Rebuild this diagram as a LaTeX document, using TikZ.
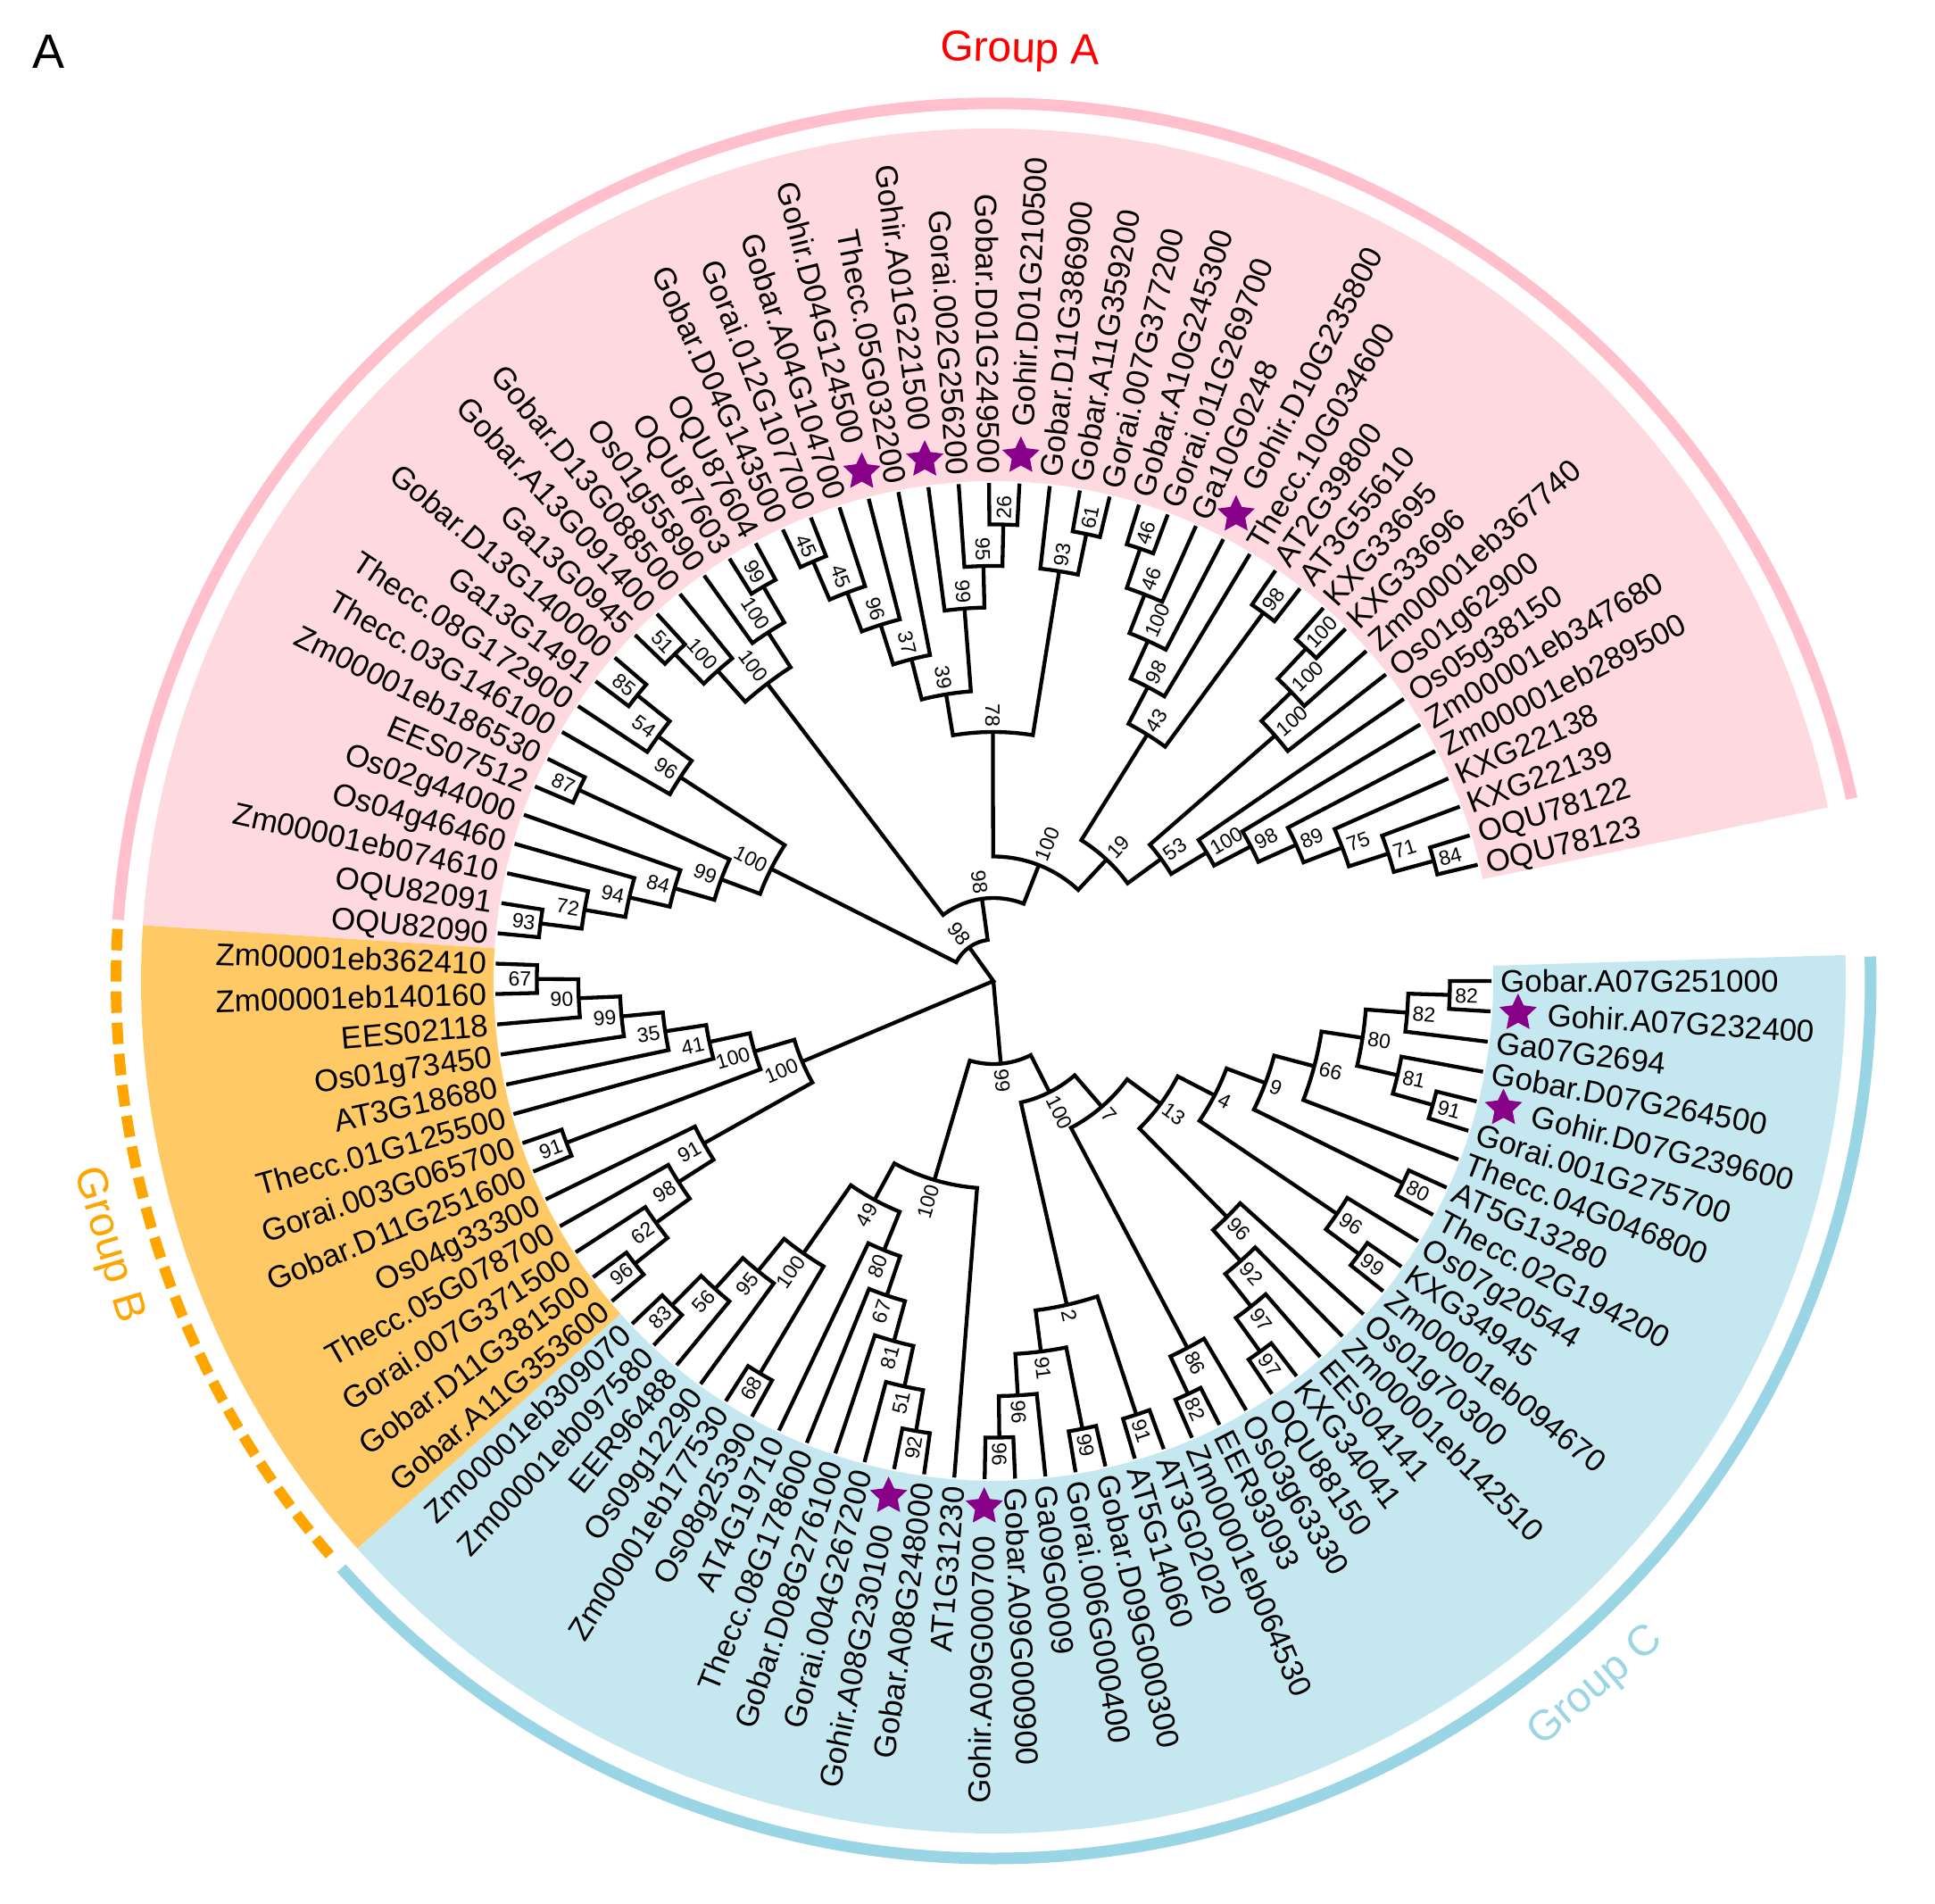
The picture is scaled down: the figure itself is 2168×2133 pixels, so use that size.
\documentclass[tikz,border=0pt]{standalone}
\usepackage{fontspec}
\setmainfont{Liberation Sans}
\usetikzlibrary{shapes.geometric}
\definecolor{pinkbg}{HTML}{FFD9E0}
\definecolor{pinkarc}{HTML}{FFC0CB}
\definecolor{orangebg}{HTML}{FFCA66}
\definecolor{orangearc}{HTML}{FFA500}
\definecolor{bluebg}{HTML}{C5E8F0}
\definecolor{bluearc}{HTML}{99D5E5}
\definecolor{starc}{HTML}{880088}
\definecolor{grpA}{HTML}{FF0000}
\definecolor{grpC}{HTML}{9BD6E4}
\tikzset{
 tree/.style={line width=4.3pt, black, line join=miter},
 leaflab/.style={font=\fontsize{35}{40}\selectfont, inner sep=0pt, text height=25pt, text depth=0pt},
 bootlab/.style={font=\fontsize{23}{26}\selectfont, inner sep=0pt, text height=16.5pt, text depth=0pt},
 starmark/.style={star, star points=5, star point ratio=2.05, fill=starc, draw=none, minimum size=44pt, inner sep=0pt},
 grplab/.style={font=\fontsize{48}{52}\selectfont, inner sep=0pt},
}
% leaf: name, position index, text, star flag
\newcommand\LF[4]{%
  \pgfmathsetmacro\zAng{13.5+3.5*#2}%
  \expandafter\xdef\csname ang@#1\endcsname{\zAng}%
  \expandafter\xdef\csname ht@#1\endcsname{0}%
  \coordinate (#1) at (\zAng:558pt);
  \ifnum#4=1
    \node[starmark] (s#1) at (\zAng:589pt) {};
    \def\zLR{622}%
  \else
    \def\zLR{568}%
  \fi
  \pgfmathsetmacro\zCos{cos(\zAng)}%
  \ifdim\zCos pt<0pt
    \pgfmathsetmacro\zRot{\zAng-180}%
    \node[leaflab,anchor=east,rotate=\zRot] (t#1) at (\zAng:\zLR pt) {#3};
  \else
    \node[leaflab,anchor=west,rotate=\zAng] (t#1) at (\zAng:\zLR pt) {#3};
  \fi
}
% internal node: name, child1, child2, bootstrap label
\newcommand\ND[4]{%
  \edef\zaA{\csname ang@#2\endcsname}%
  \edef\zaB{\csname ang@#3\endcsname}%
  \edef\zhA{\csname ht@#2\endcsname}%
  \edef\zhB{\csname ht@#3\endcsname}%
  \pgfmathsetmacro\zAng{(\zaA+\zaB)/2}%
  \pgfmathtruncatemacro\zH{max(\zhA,\zhB)+1}%
  \pgfmathsetmacro\zR{558-46.5*\zH}%
  \expandafter\xdef\csname ang@#1\endcsname{\zAng}%
  \expandafter\xdef\csname ht@#1\endcsname{\zH}%
  \coordinate (#1) at (\zAng:\zR pt);
  \draw[tree] (#2) -- (\zaA:\zR pt) arc[start angle=\zaA, end angle=\zaB, radius=\zR pt] -- (#3);
  \pgfmathsetmacro\zL{\zR+6}%
  \pgfmathsetmacro\zCos{cos(\zAng)}%
  \ifdim\zCos pt<0pt
    \pgfmathsetmacro\zRot{\zAng-180}%
    \node[bootlab,anchor=east,rotate=\zRot] (b#1) at (\zAng:\zL pt) {#4};
  \else
    \node[bootlab,anchor=west,rotate=\zAng] (b#1) at (\zAng:\zL pt) {#4};
  \fi
}
\begin{document}
\begin{tikzpicture}
\useasboundingbox (-1113pt,-1034pt) rectangle (1055pt,1099pt);
\fill[white] (-1113pt,-1034pt) rectangle (1055pt,1099pt);
% group backgrounds
\fill[pinkbg] (11.75:560pt) arc[start angle=11.75,end angle=176.25,radius=560pt] -- (176.25:955pt) arc[start angle=176.25,end angle=11.75,radius=955pt] -- cycle;
\fill[orangebg] (176.25:560pt) arc[start angle=176.25,end angle=221.75,radius=560pt] -- (221.75:955pt) arc[start angle=221.75,end angle=176.25,radius=955pt] -- cycle;
\fill[bluebg] (221.75:560pt) arc[start angle=221.75,end angle=361.75,radius=560pt] -- (361.75:955pt) arc[start angle=361.75,end angle=221.75,radius=955pt] -- cycle;
% group arcs
\draw[pinkarc,line width=13pt] (12:983pt) arc[start angle=12,end angle=176,radius=983pt];
\draw[orangearc,line width=12pt,dash pattern=on 24pt off 11pt] (176.6:983pt) arc[start angle=176.6,end angle=221.2,radius=983pt];
\draw[bluearc,line width=13pt] (222:983pt) arc[start angle=222,end angle=361.6,radius=983pt];
% group labels
\node[grplab,text=grpA,rotate=-1.7] (gA) at (30pt,1041pt) {Group A};
\node[grplab,text=orangearc,rotate=-73.4] (gB) at (196.6:1036pt) {Group B};
\node[grplab,text=grpC,rotate=40.5] (gC) at (310.5:1040pt) {Group C};
\node[font=\fontsize{54}{58}\selectfont,inner sep=0pt] (panel) at (-1058pt,1041pt) {A};
% leaves
\LF{L0}{0}{OQU78123}{0}
\LF{L1}{1}{OQU78122}{0}
\LF{L2}{2}{KXG22139}{0}
\LF{L3}{3}{KXG22138}{0}
\LF{L4}{4}{Zm00001eb289500}{0}
\LF{L5}{5}{Zm00001eb347680}{0}
\LF{L6}{6}{Os05g38150}{0}
\LF{L7}{7}{Os01g62900}{0}
\LF{L8}{8}{Zm00001eb367740}{0}
\LF{L9}{9}{KXG33696}{0}
\LF{L10}{10}{KXG33695}{0}
\LF{L11}{11}{AT3G55610}{0}
\LF{L12}{12}{AT2G39800}{0}
\LF{L13}{13}{Thecc.10G034600}{0}
\LF{L14}{14}{Gohir.D10G235800}{1}
\LF{L15}{15}{Ga10G0248}{0}
\LF{L16}{16}{Gorai.011G269700}{0}
\LF{L17}{17}{Gobar.A10G245300}{0}
\LF{L18}{18}{Gorai.007G377200}{0}
\LF{L19}{19}{Gobar.A11G359200}{0}
\LF{L20}{20}{Gobar.D11G386900}{0}
\LF{L21}{21}{Gohir.D01G210500}{1}
\LF{L22}{22}{Gobar.D01G249500}{0}
\LF{L23}{23}{Gorai.002G256200}{0}
\LF{L24}{24}{Gohir.A01G221500}{1}
\LF{L25}{25}{Thecc.05G032200}{0}
\LF{L26}{26}{Gohir.D04G124500}{1}
\LF{L27}{27}{Gobar.A04G104700}{0}
\LF{L28}{28}{Gorai.012G107700}{0}
\LF{L29}{29}{Gobar.D04G143500}{0}
\LF{L30}{30}{OQU87604}{0}
\LF{L31}{31}{OQU87603}{0}
\LF{L32}{32}{Os01g55890}{0}
\LF{L33}{33}{Gobar.D13G088500}{0}
\LF{L34}{34}{Gobar.A13G091400}{0}
\LF{L35}{35}{Ga13G0945}{0}
\LF{L36}{36}{Gobar.D13G140000}{0}
\LF{L37}{37}{Ga13G1491}{0}
\LF{L38}{38}{Thecc.08G172900}{0}
\LF{L39}{39}{Thecc.03G146100}{0}
\LF{L40}{40}{Zm00001eb186530}{0}
\LF{L41}{41}{EES07512}{0}
\LF{L42}{42}{Os02g44000}{0}
\LF{L43}{43}{Os04g46460}{0}
\LF{L44}{44}{Zm00001eb074610}{0}
\LF{L45}{45}{OQU82091}{0}
\LF{L46}{46}{OQU82090}{0}
\LF{L47}{47}{Zm00001eb362410}{0}
\LF{L48}{48}{Zm00001eb140160}{0}
\LF{L49}{49}{EES02118}{0}
\LF{L50}{50}{Os01g73450}{0}
\LF{L51}{51}{AT3G18680}{0}
\LF{L52}{52}{Thecc.01G125500}{0}
\LF{L53}{53}{Gorai.003G065700}{0}
\LF{L54}{54}{Gobar.D11G251600}{0}
\LF{L55}{55}{Os04g33300}{0}
\LF{L56}{56}{Thecc.05G078700}{0}
\LF{L57}{57}{Gorai.007G371500}{0}
\LF{L58}{58}{Gobar.D11G381500}{0}
\LF{L59}{59}{Gobar.A11G353600}{0}
\LF{L60}{60}{Zm00001eb309070}{0}
\LF{L61}{61}{Zm00001eb097580}{0}
\LF{L62}{62}{EER96488}{0}
\LF{L63}{63}{Os09g12290}{0}
\LF{L64}{64}{Zm00001eb177530}{0}
\LF{L65}{65}{Os08g25390}{0}
\LF{L66}{66}{AT4G19710}{0}
\LF{L67}{67}{Thecc.08G178600}{0}
\LF{L68}{68}{Gobar.D08G276100}{0}
\LF{L69}{69}{Gorai.004G267200}{0}
\LF{L70}{70}{Gohir.A08G230100}{1}
\LF{L71}{71}{Gobar.A08G248000}{0}
\LF{L72}{72}{AT1G31230}{0}
\LF{L73}{73}{Gohir.A09G000700}{1}
\LF{L74}{74}{Gobar.A09G000900}{0}
\LF{L75}{75}{Ga09G0009}{0}
\LF{L76}{76}{Gorai.006G000400}{0}
\LF{L77}{77}{Gobar.D09G000300}{0}
\LF{L78}{78}{AT5G14060}{0}
\LF{L79}{79}{AT3G02020}{0}
\LF{L80}{80}{Zm00001eb064530}{0}
\LF{L81}{81}{EER93093}{0}
\LF{L82}{82}{Os03g63330}{0}
\LF{L83}{83}{OQU88150}{0}
\LF{L84}{84}{KXG34041}{0}
\LF{L85}{85}{EES04141}{0}
\LF{L86}{86}{Zm00001eb142510}{0}
\LF{L87}{87}{Os01g70300}{0}
\LF{L88}{88}{Zm00001eb094670}{0}
\LF{L89}{89}{KXG34945}{0}
\LF{L90}{90}{Os07g20544}{0}
\LF{L91}{91}{Thecc.02G194200}{0}
\LF{L92}{92}{AT5G13280}{0}
\LF{L93}{93}{Thecc.04G046800}{0}
\LF{L94}{94}{Gorai.001G275700}{0}
\LF{L95}{95}{Gohir.D07G239600}{1}
\LF{L96}{96}{Gobar.D07G264500}{0}
\LF{L97}{97}{Ga07G2694}{0}
\LF{L98}{98}{Gohir.A07G232400}{1}
\LF{L99}{99}{Gobar.A07G251000}{0}
% group A
\ND{a84}{L0}{L1}{84}
\ND{a71}{a84}{L2}{71}
\ND{a75}{a71}{L3}{75}
\ND{a89}{a75}{L4}{89}
\ND{a98x}{a89}{L5}{98}
\ND{a100x}{a98x}{L6}{100}
\ND{b100a}{L9}{L10}{100}
\ND{b100b}{b100a}{L8}{100}
\ND{b100c}{b100b}{L7}{100}
\ND{a53}{b100c}{a100x}{53}
\ND{c98}{L11}{L12}{98}
\ND{c46u}{L16}{L17}{46}
\ND{c46l}{c46u}{L15}{46}
\ND{c100}{c46l}{L14}{100}
\ND{c98b}{c100}{L13}{98}
\ND{a43}{c98b}{c98}{43}
\ND{a19}{a43}{a53}{19}
\ND{d61}{L18}{L19}{61}
\ND{d93}{d61}{L20}{93}
\ND{d26}{L21}{L22}{26}
\ND{d95}{L23}{d26}{95}
\ND{d99}{L24}{d95}{99}
\ND{e45o}{L28}{L29}{45}
\ND{e45i}{e45o}{L27}{45}
\ND{e96}{e45i}{L26}{96}
\ND{e37}{e96}{L25}{37}
\ND{d39}{e37}{d99}{39}
\ND{d78}{d39}{d93}{78}
\ND{aR}{d78}{a19}{100}
\ND{f99}{L30}{L31}{99}
\ND{f100}{f99}{L32}{100}
\ND{g51}{L34}{L35}{51}
\ND{g100}{L33}{g51}{100}
\ND{aM}{f100}{g100}{100}
\ND{up98}{aR}{aM}{98}
\ND{h85}{L36}{L37}{85}
\ND{h54}{h85}{L38}{54}
\ND{h96}{h54}{L39}{96}
\ND{i87}{L40}{L41}{87}
\ND{j93}{L45}{L46}{93}
\ND{j72}{j93}{L44}{72}
\ND{j94}{j72}{L43}{94}
\ND{j84}{j94}{L42}{84}
\ND{i99}{i87}{j84}{99}
\ND{aL}{h96}{i99}{100}
\ND{lo98}{up98}{aL}{98}
% group B
\ND{k67}{L47}{L48}{67}
\ND{k90}{k67}{L49}{90}
\ND{k99}{k90}{L50}{99}
\ND{k35}{k99}{L51}{35}
\ND{k41}{k35}{L52}{41}
\ND{k91}{L53}{L54}{91}
\ND{k100}{k41}{k91}{100}
\ND{l96}{L58}{L59}{96}
\ND{l62}{l96}{L57}{62}
\ND{l98}{l62}{L56}{98}
\ND{l91}{l98}{L55}{91}
\ND{B100}{k100}{l91}{100}
% group C
\ND{m83}{L60}{L61}{83}
\ND{m56}{m83}{L62}{56}
\ND{m95}{m56}{L63}{95}
\ND{m68}{L64}{L65}{68}
\ND{m100}{m95}{m68}{100}
\ND{n92}{L70}{L71}{92}
\ND{n51}{L69}{n92}{51}
\ND{n81}{L68}{n51}{81}
\ND{n67}{L67}{n81}{67}
\ND{n80}{L66}{n67}{80}
\ND{m49}{m100}{n80}{49}
\ND{C1}{m49}{L72}{100}
\ND{o96l}{L73}{L74}{96}
\ND{o96u}{o96l}{L75}{96}
\ND{o99}{L76}{L77}{99}
\ND{o91}{o96u}{o99}{91}
\ND{o91b}{L78}{L79}{91}
\ND{o2}{o91}{o91b}{2}
\ND{q82}{L80}{L81}{82}
\ND{q86}{q82}{L82}{86}
\ND{s97a}{L83}{L84}{97}
\ND{s97b}{s97a}{L85}{97}
\ND{s92}{s97b}{L86}{92}
\ND{s96}{s92}{L87}{96}
\ND{t99}{L88}{L89}{99}
\ND{t96}{L90}{t99}{96}
\ND{u80}{L91}{L92}{80}
\ND{v91}{L94}{L95}{91}
\ND{v81}{L96}{v91}{81}
\ND{w82a}{L98}{L99}{82}
\ND{w82b}{w82a}{L97}{82}
\ND{w80}{w82b}{v81}{80}
\ND{x66}{L93}{w80}{66}
\ND{x9}{u80}{x66}{9}
\ND{x4}{t96}{x9}{4}
\ND{x13}{s96}{x4}{13}
\ND{x7}{q86}{x13}{7}
\ND{C2}{o2}{x7}{100}
\ND{Croot}{C1}{C2}{99}
% root
\coordinate (root) at (0pt,0pt);
\draw[tree] (lo98) -- (root) -- (B100);
\draw[tree] (root) -- (Croot);
\end{tikzpicture}
\end{document}
